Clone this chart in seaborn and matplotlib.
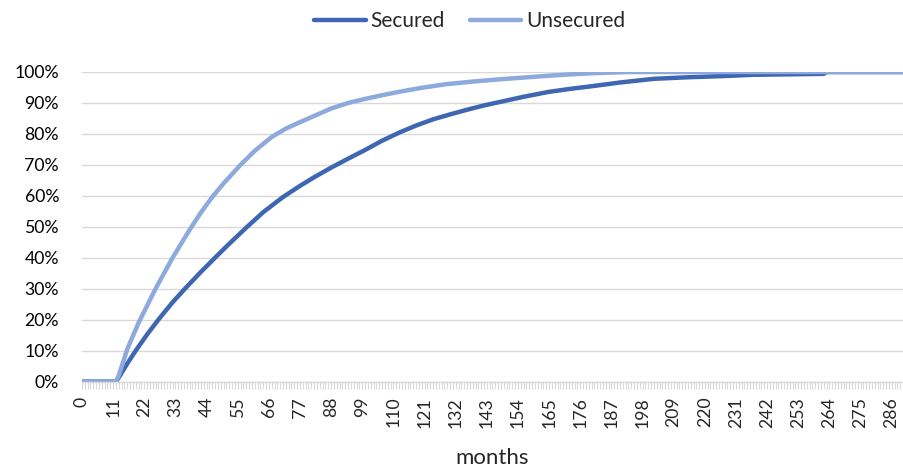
import pandas as pd
import matplotlib.pyplot as plt
import seaborn as sns
from matplotlib.ticker import MultipleLocator, PercentFormatter

# Cumulative share by month (in %)
sec_months = [0, 12, 13, 16, 19, 23, 27, 32, 37, 42, 47, 52, 58, 64, 71, 77, 82, 88,
              94, 100, 106, 112, 118, 124, 130, 136, 142, 148, 156, 165, 172, 180,
              190, 202, 214, 227, 237, 262, 263, 290]
sec_pct = [0, 0, 1.3, 5.8, 10, 15.2, 20, 25.6, 30.6, 35.4, 40, 44.5, 49.7, 54.7, 59.6,
           63.2, 66, 69.1, 72, 74.8, 77.8, 80.4, 82.7, 84.7, 86.3, 87.8, 89.2, 90.4,
           92, 93.6, 94.5, 95.4, 96.6, 97.8, 98.3, 98.7, 99.1, 99.4, 100, 100]

uns_months = [0, 12, 13, 16, 20, 23, 26, 29, 32, 35, 38, 42, 46, 50, 56, 61, 67, 72,
              77, 83, 88, 94, 100, 106, 112, 120, 129, 138, 147, 156, 165, 172, 180,
              193, 290]
uns_pct = [0, 0, 2, 10.5, 19, 24.5, 30, 35, 40, 44.5, 49, 54.6, 59.6, 64, 70, 74.5,
           79, 81.7, 83.8, 86.2, 88.2, 90, 91.3, 92.5, 93.6, 94.9, 96.1, 96.9, 97.6,
           98.2, 98.8, 99.2, 99.6, 100, 100]

series_names = ["Secured", "Unsecured"]
colors = ["#3F67B1", "#8EA9DB"]

df = pd.concat([
    pd.DataFrame({"months": sec_months, "pct": sec_pct, "type": series_names[0]}),
    pd.DataFrame({"months": uns_months, "pct": uns_pct, "type": series_names[1]}),
])

sns.set_style("white")
plt.rcParams["font.family"] = ["Lato", "DejaVu Sans"]

fig = plt.figure(figsize=(9.04, 4.67), dpi=100)
ax = fig.add_axes([82 / 904, 1 - 381.5 / 467, 821 / 904, 309.5 / 467])

sns.lineplot(data=df, x="months", y="pct", hue="type", palette=colors,
             linewidth=3.2, ax=ax, legend=True)

ax.set_xlim(0, 290)
ax.set_ylim(0, 100)
ax.yaxis.set_major_locator(MultipleLocator(10))
ax.yaxis.set_major_formatter(PercentFormatter(100, decimals=0))
ax.xaxis.set_major_locator(MultipleLocator(11))
ax.xaxis.set_minor_locator(MultipleLocator(1))
ax.grid(axis="y", color="#D9D9D9", linewidth=1.0)
ax.set_axisbelow(True)

for side in ["left", "top", "right"]:
    ax.spines[side].set_visible(False)
ax.spines["bottom"].set_color("#D9D9D9")
ax.spines["bottom"].set_linewidth(1.0)

ax.tick_params(axis="y", length=0, pad=16.5, labelsize=12.7, labelcolor="#000000")
ax.tick_params(axis="x", which="both", direction="out", length=5, width=0.8,
               color="#D9D9D9", bottom=True)
ax.tick_params(axis="x", which="major", labelsize=12.7, labelrotation=90, pad=6)

ax.set_ylabel("")
ax.set_xlabel("months", fontsize=16)
ax.xaxis.set_label_coords(0.5, -0.215)

ax.legend(loc="center", bbox_to_anchor=(470 / 904, 1 - 21 / 467),
          bbox_transform=fig.transFigure, ncol=2, frameon=False, fontsize=15,
          handlelength=2.45, handletextpad=0.25, columnspacing=1.2)

plt.savefig("out.png", dpi=100)
